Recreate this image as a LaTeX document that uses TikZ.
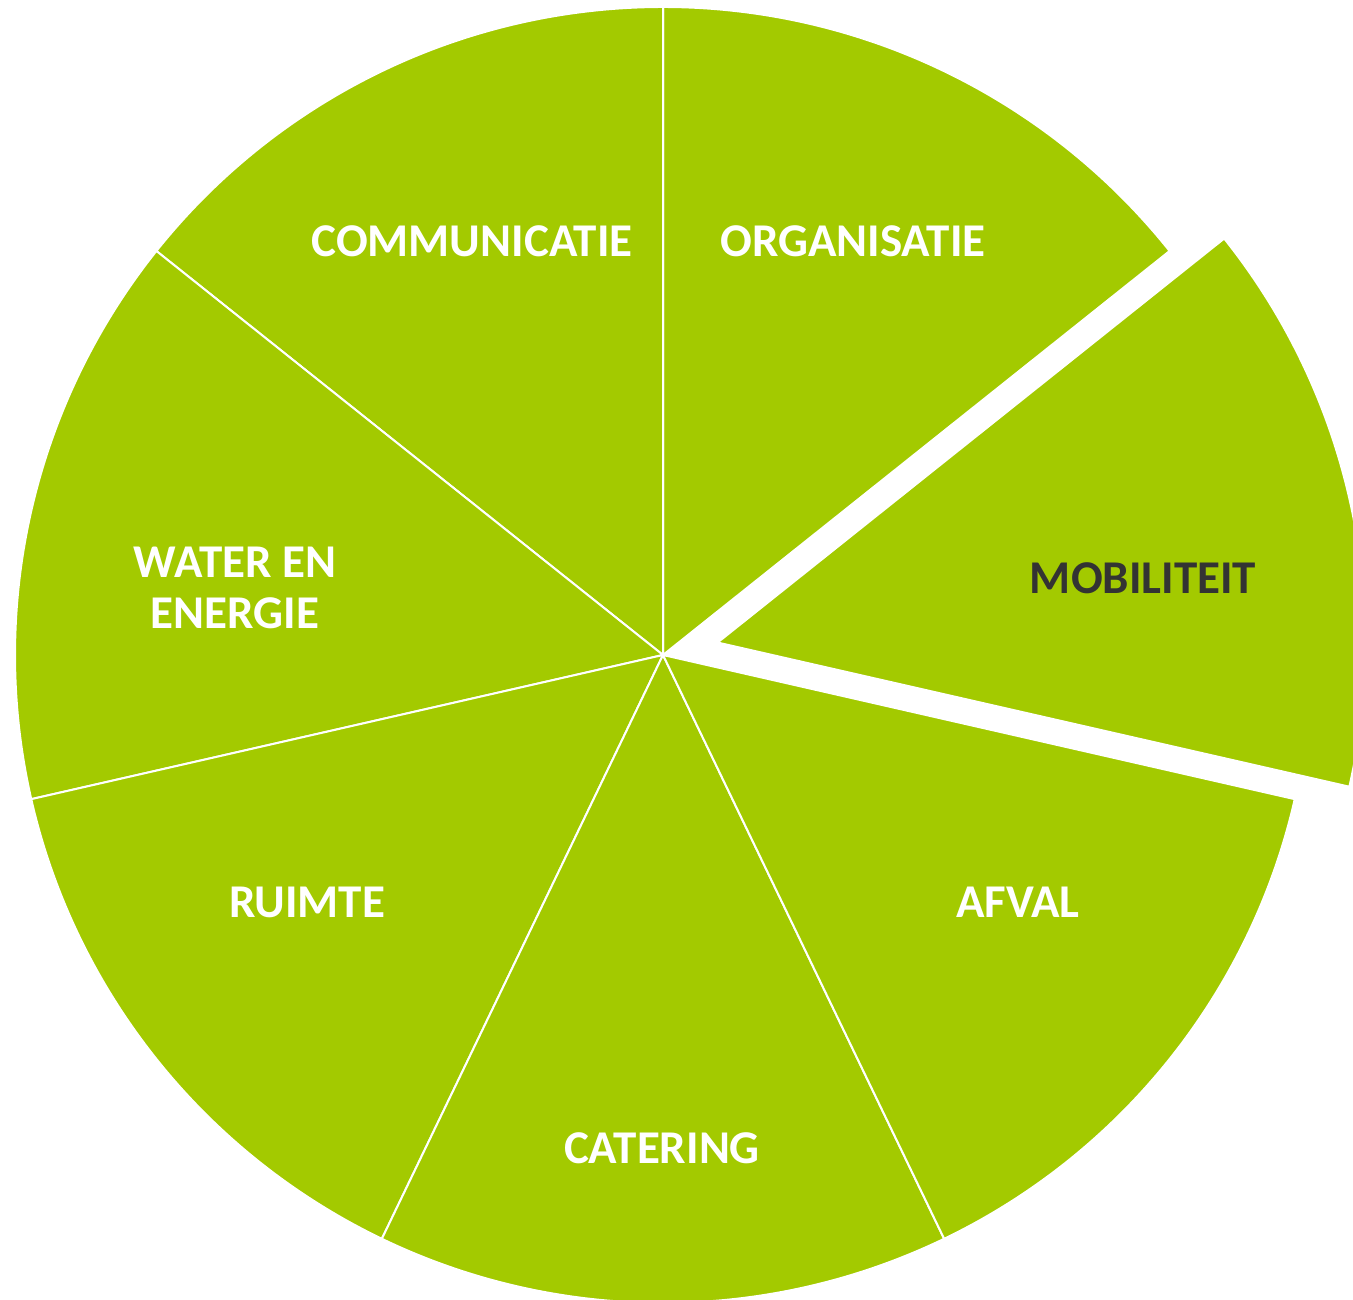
\documentclass[tikz,border=0pt]{standalone}
\usepackage{fontspec}
\setmainfont{Carlito}
\usetikzlibrary{calc}
\definecolor{pie}{HTML}{A3CA00}
\definecolor{dark}{HTML}{333333}
\begin{document}
\begin{tikzpicture}[x=1pt,y=1pt,
  slice/.style={fill=pie,draw=white,line width=2pt,line join=miter},
  lbl/.style={font=\fontsize{47}{51}\selectfont\bfseries,text=white,align=center,inner sep=0pt},
  lbldark/.style={lbl,text=dark}]
\useasboundingbox (0,0) rectangle (1353,1300);
\clip (0,0) rectangle (1353,1300);
\coordinate (C) at (663,645);
\def\R{648}
% regular slices
\foreach \a/\b in {38.571/90, 90/141.429, 141.429/192.857, 192.857/244.286, 244.286/295.714, 295.714/347.143}{
  \draw[slice] (C) -- ++(\a:\R) arc[start angle=\a,end angle=\b,radius=\R] -- cycle;
}
% exploded slice
\coordinate (E) at ($(C)+(12.857:56)$);
\draw[slice] (E) -- ++(-12.857:\R) arc[start angle=-12.857,end angle=38.571,radius=\R] -- cycle;
% labels
\node[lbl] (comm) at (472,1059) {COMMUNICATIE};
\node[lbl] (org) at (853,1059) {ORGANISATIE};
\node[lbldark] (mob) at (1143,722) {MOBILITEIT};
\node[lbl] (water) at (235,712) {WATER EN\\ENERGIE};
\node[lbl] (ruimte) at (307,398) {RUIMTE};
\node[lbl] (cat) at (662,152) {CATERING};
\node[lbl] (afval) at (1018,398) {AFVAL};
\end{tikzpicture}
\end{document}
